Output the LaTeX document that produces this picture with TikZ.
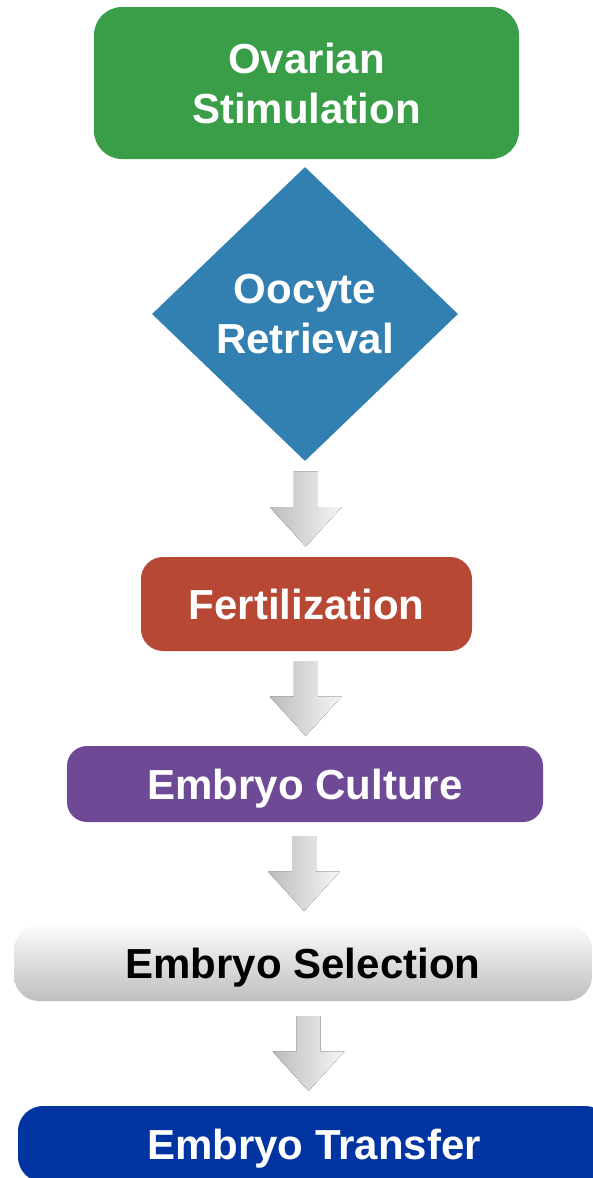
\documentclass[tikz,border=0pt]{standalone}
\usepackage{fontspec}
\setmainfont{Liberation Sans}
\usetikzlibrary{shapes.geometric,calc}

\definecolor{stimgreen}{RGB}{58,158,72}
\definecolor{retrblue}{RGB}{50,128,178}
\definecolor{fertred}{RGB}{182,72,52}
\definecolor{cultpurple}{RGB}{110,74,150}
\definecolor{transblue}{RGB}{0,52,160}
\definecolor{arrowdark}{RGB}{188,188,188}
\definecolor{arrowlight}{RGB}{246,246,246}
\definecolor{seltop}{RGB}{252,252,252}
\definecolor{selbottom}{RGB}{190,190,190}

\tikzset{
  label font/.style={font=\fontsize{42}{50}\selectfont\bfseries},
  stepbox/.style={rectangle, rounded corners=#1, draw=none, inner sep=0pt,
                  label font, text=white, align=center},
  oneline/.style={text height=30pt, text depth=0pt},
  downarrow/.pic={
    \fill[left color=arrowdark, right color=arrowlight]
      (-12,-37.5) -- (12,-37.5) -- (12,-2) -- (36,-2) -- (0,37.5)
      -- (-36,-2) -- (-12,-2) -- cycle;
  }
}

\begin{document}
\begin{tikzpicture}[x=1pt, y=-1pt]
  \useasboundingbox (0,0) rectangle (592,1178);

  % process steps, top to bottom
  \node[stepbox=28pt, fill=stimgreen, minimum width=425pt, minimum height=152pt]
    (stim) at (306.5,83) {Ovarian\\Stimulation};

  \node[diamond, fill=retrblue, inner sep=0pt, minimum width=306pt, minimum height=294pt,
        label font, text=white, align=center]
    (retr) at (305,314) {Oocyte\\Retrieval};

  \node[stepbox=22pt, oneline, fill=fertred, minimum width=331pt, minimum height=94pt]
    (fert) at (306.5,604) {Fertilization};

  \node[stepbox=20pt, oneline, fill=cultpurple, minimum width=476pt, minimum height=76pt]
    (cult) at (305,784) {Embryo Culture};

  \node[stepbox=25pt, oneline, top color=seltop, bottom color=selbottom, text=black,
        minimum width=578pt, minimum height=76pt]
    (sel) at (303,963) {Embryo Selection};

  \node[stepbox=25pt, oneline, fill=transblue, minimum width=592pt, minimum height=76pt]
    (trans) at (314,1144) {Embryo Transfer};

  % block arrows between consecutive steps
  \pic at ($(retr.south)!0.5!(fert.north)$) {downarrow};
  \pic at ($(fert.south)!0.5!(cult.north)$) {downarrow};
  \pic at ($(cult.south)!0.5!(sel.north)$) {downarrow};
  \pic at ($(sel.south)!0.5!(trans.north)$) {downarrow};
\end{tikzpicture}
\end{document}
